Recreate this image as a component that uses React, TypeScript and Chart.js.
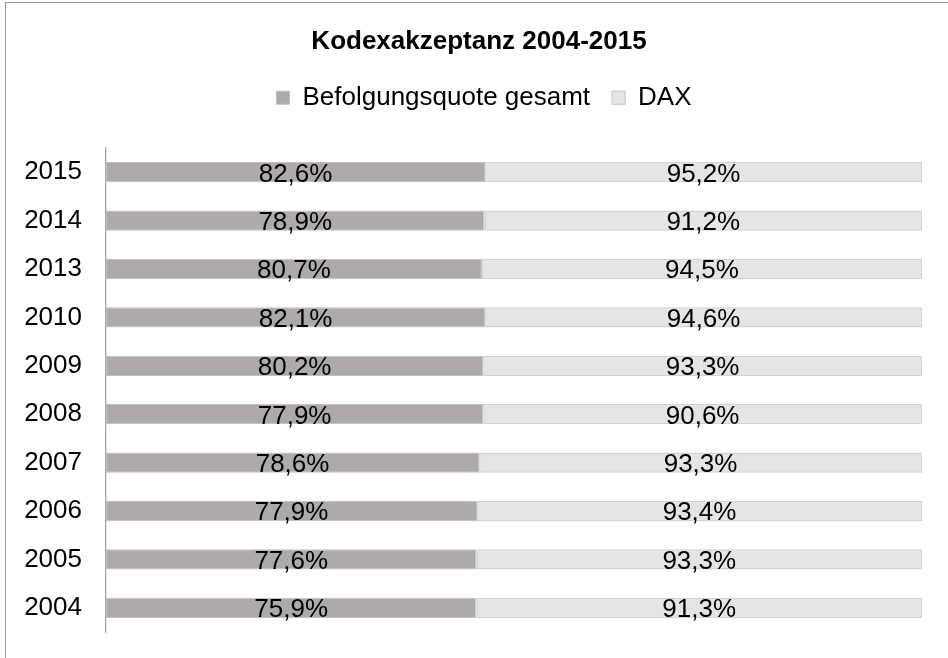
import React, { useEffect, useRef } from 'react';
import { Chart, registerables } from 'chart.js';

Chart.register(...registerables);

const titleText = 'Kodexakzeptanz 2004-2015';
const seriesNames = ['Befolgungsquote gesamt', 'DAX'];
const years = ['2015', '2014', '2013', '2010', '2009', '2008', '2007', '2006', '2005', '2004'];
const befolgung = [82.6, 78.9, 80.7, 82.1, 80.2, 77.9, 78.6, 77.9, 77.6, 75.9];
const dax = [95.2, 91.2, 94.5, 94.6, 93.3, 90.6, 93.3, 93.4, 93.3, 91.3];

const FONT = '"Liberation Sans", Arial, sans-serif';
const FONT_SIZE = 26;

const fmt = (v: number) => v.toFixed(1).replace('.', ',') + '%';

export default function App() {
  const ref = useRef<HTMLCanvasElement>(null);

  useEffect(() => {
    if (!ref.current) return;
    const rawSeries = [befolgung, dax];
    const shareB = befolgung.map((v, i) => (v / (v + dax[i])) * 100);
    const shareD = dax.map((v, i) => (v / (v + befolgung[i])) * 100);

    const labelPlugin = {
      id: 'segLabels',
      afterLayout(chart: any) {
        if (chart.titleBlock) {
          chart.titleBlock.left += 18;
          chart.titleBlock.right += 18;
        }
        if (chart.legend) {
          chart.legend.left += 23;
          chart.legend.right += 23;
        }
      },
      afterDatasetsDraw(chart: any) {
        const ctx = chart.ctx;
        ctx.save();
        ctx.font = `${FONT_SIZE}px ${FONT}`;
        ctx.fillStyle = '#000';
        ctx.textAlign = 'center';
        ctx.textBaseline = 'alphabetic';
        chart.data.datasets.forEach((_ds: any, di: number) => {
          const meta = chart.getDatasetMeta(di);
          meta.data.forEach((el: any, i: number) => {
            const p = el.getProps(['x', 'y', 'base'], true);
            ctx.fillText(fmt(rawSeries[di][i]), (p.x + p.base) / 2, p.y + FONT_SIZE * 0.36);
          });
        });
        ctx.restore();
      },
    };

    Chart.defaults.font.family = FONT;
    const chart = new Chart(ref.current, {
      type: 'bar',
      data: {
        labels: years,
        datasets: [
          {
            label: seriesNames[0],
            data: shareB,
            backgroundColor: '#ADAAA9',
            borderColor: '#C2BFBE',
            borderWidth: 1,
            borderSkipped: false,
            barPercentage: 0.42,
            categoryPercentage: 1,
          },
          {
            label: seriesNames[1],
            data: shareD,
            backgroundColor: '#E5E5E5',
            borderColor: '#D2D2D2',
            borderWidth: 1.5,
            borderSkipped: false,
            barPercentage: 0.42,
            categoryPercentage: 1,
          },
        ],
      },
      options: {
        indexAxis: 'y',
        responsive: false,
        animation: false,
        devicePixelRatio: 1,
        events: [],
        layout: { padding: { left: 0, right: 26, top: 0, bottom: 26 } },
        scales: {
          x: {
            stacked: true,
            position: 'top',
            min: 0,
            max: 100,
            display: true,
            ticks: { display: false },
            grid: { display: false },
            border: { display: false },
            afterFit: (s: any) => {
              s.height = 27.3;
            },
          },
          y: {
            stacked: true,
            grid: { display: false, drawTicks: false },
            border: { display: true, color: '#A6A6A6', width: 1.3 },
            ticks: {
              color: '#000',
              padding: 24,
              font: { size: FONT_SIZE, family: FONT },
            },
            afterFit: (s: any) => {
              s.width = 106;
              s.paddingTop = 0;
              s.paddingBottom = 0;
            },
          },
        },
        plugins: {
          tooltip: { enabled: false },
          title: {
            display: true,
            text: titleText,
            color: '#000',
            font: { size: FONT_SIZE, weight: 'bold', family: FONT },
            padding: { top: 26, bottom: 5.5 },
          },
          legend: {
            display: true,
            position: 'top',
            labels: {
              color: '#000',
              boxWidth: 13,
              boxHeight: 13,
              padding: 22,
              font: { size: FONT_SIZE, family: FONT },
            },
          },
        },
      },
      plugins: [labelPlugin],
    } as any);
    return () => chart.destroy();
  }, []);

  return (
    <div
      style={{
        position: 'fixed',
        left: 0,
        top: 0,
        width: 948,
        height: 658,
        overflow: 'hidden',
        background: '#fff',
      }}
    >
      <div
        style={{
          position: 'absolute',
          left: 5,
          top: 2,
          width: 2000,
          height: 2000,
          borderLeft: '1.5px solid #9A9A9A',
          borderTop: '1.5px solid #9A9A9A',
        }}
      />
      <canvas
        ref={ref}
        width={948}
        height={658}
        style={{ position: 'absolute', left: 0, top: 0, width: 948, height: 658 }}
      />
    </div>
  );
}
